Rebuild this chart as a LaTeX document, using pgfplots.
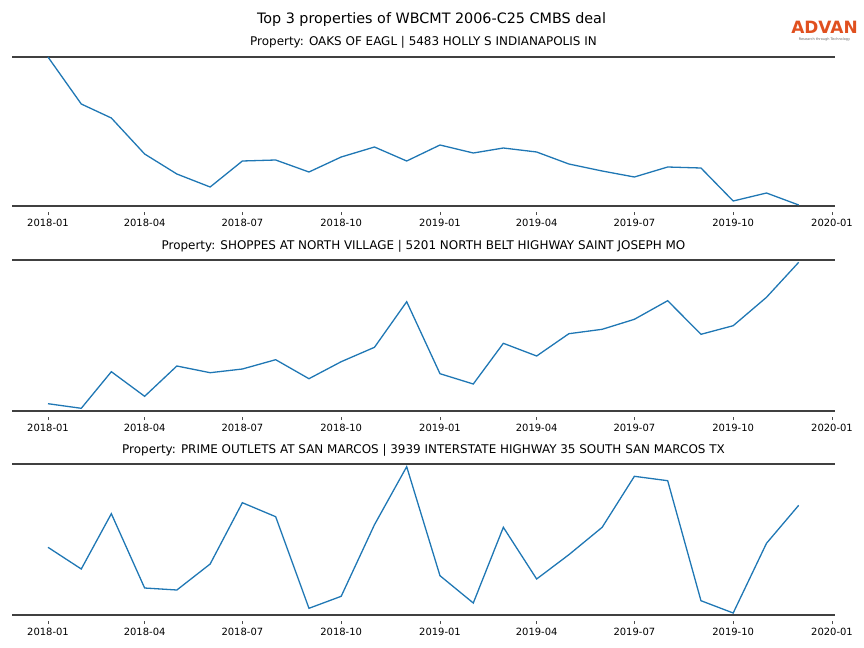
\documentclass[border=0pt]{standalone}
\usepackage{pgfplots}
\pgfplotsset{compat=1.18}
\usepackage{fontspec}
\setmainfont{DejaVu Sans}
\definecolor{mplblue}{HTML}{1F77B4}
\definecolor{advan}{HTML}{E0501F}

% x positions are days after 2018-01-01, y values are read off the picture
\pgfplotstableread{
x y
0 -57
31 -104
59 -118
90 -154
120 -174
151 -187
181 -161
212 -160
243 -172
273 -157
304 -147
334 -161
365 -145
396 -153
424 -148
455 -152
485 -164
516 -171
546 -177
577 -167
608 -168
638 -201
669 -193
699 -205
}\oaks
\pgfplotstableread{
x y
0 -403.7
31 -408.3
59 -371.7
90 -396.3
120 -366
151 -372.7
181 -369
212 -359.7
243 -378.7
273 -361.7
304 -347.3
334 -301.7
365 -373.7
396 -384
424 -343.3
455 -356
485 -333.7
516 -329.3
546 -319.3
577 -300.7
608 -334.3
638 -325.7
669 -297.3
699 -262.3
}\shoppes
\pgfplotstableread{
x y
0 -547.3
31 -569
59 -513.7
90 -588
120 -590
151 -564
181 -502.7
212 -516.7
243 -608.3
273 -596.3
304 -524.7
334 -466.7
365 -575.7
396 -603
424 -527.3
455 -579
485 -554.7
516 -527.3
546 -476.3
577 -480.7
608 -600.7
638 -613
669 -543.3
699 -505.3
}\prime

\pgfplotsset{
  panel/.style={
    scale only axis, width=823bp,
    anchor=north west,
    xmin=-33.5, xmax=732.8,
    axis x line=box, axis y line=none,
    axis line style={black!75, line width=1.6bp},
    ytick=\empty,
    xtick pos=left,
    xtick={0,90,181,273,365,455,546,638,730},
    xticklabels={2018-01,2018-04,2018-07,2018-10,2019-01,2019-04,2019-07,2019-10,2020-01},
    tick align=outside, major tick length=3bp,
    xtick style={black!70, line width=0.7bp, yshift=-6bp},
    xticklabel style={font=\fontsize{10}{12}\selectfont, yshift=-7bp},
    /pgf/number format/assume math mode=true,
    clip=false,
  },
}

\begin{document}
\begin{tikzpicture}
\path[use as bounding box] (0,0) rectangle (864bp,-648bp);
\node[font=\fontsize{14.4}{16}\selectfont] at (431.5bp,-19.5bp) {Top 3 properties of WBCMT 2006-C25 CMBS deal};
\node[font=\fontsize{12}{14}\selectfont] at (423.5bp,-42.5bp) {Property: OAKS OF EAGL | 5483 HOLLY S INDIANAPOLIS IN};
\node[font=\fontsize{12}{14}\selectfont] at (423.5bp,-246.5bp) {Property: SHOPPES AT NORTH VILLAGE | 5201 NORTH BELT HIGHWAY SAINT JOSEPH MO};
\node[font=\fontsize{12}{14}\selectfont] at (423.5bp,-450.5bp) {Property: PRIME OUTLETS AT SAN MARCOS | 3939 INTERSTATE HIGHWAY 35 SOUTH SAN MARCOS TX};
\node[font=\bfseries\fontsize{17}{19}\selectfont, text=advan, inner sep=0pt] at (824.5bp,-27.5bp) {ADVAN};
\node[font=\fontsize{3.5}{4}\selectfont, text=black!60, inner sep=0pt] at (824.5bp,-39.5bp) {Research through Technology};

\begin{axis}[panel, at={(12bp,-57bp)}, height=149bp, ymin=-206, ymax=-57]
\addplot[mplblue, line width=1.3bp] table[x=x,y=y] {\oaks};
\end{axis}
\begin{axis}[panel, at={(12bp,-260bp)}, height=151bp, ymin=-411, ymax=-260]
\addplot[mplblue, line width=1.3bp] table[x=x,y=y] {\shoppes};
\end{axis}
\begin{axis}[panel, at={(12bp,-464bp)}, height=151bp, ymin=-615, ymax=-464]
\addplot[mplblue, line width=1.3bp] table[x=x,y=y] {\prime};
\end{axis}
\end{tikzpicture}
\end{document}
